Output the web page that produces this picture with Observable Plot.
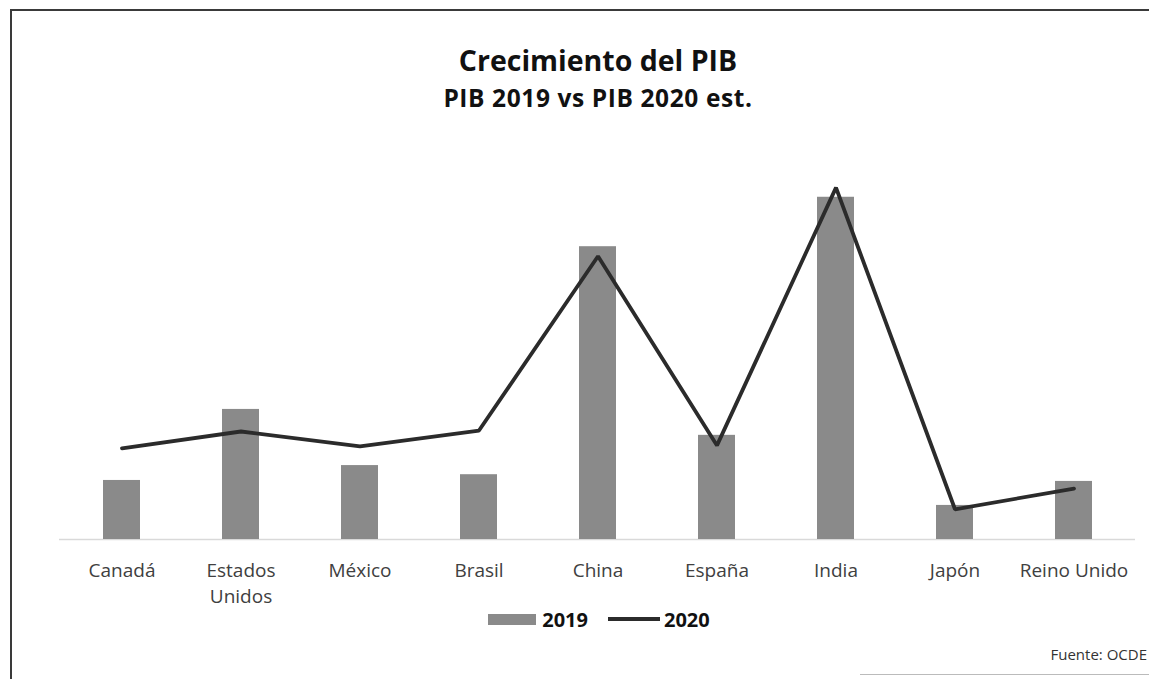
<!DOCTYPE html>
<html>
<head>
<meta charset="utf-8">
<script src="https://cdn.jsdelivr.net/npm/d3@7"></script>
<script src="https://cdn.jsdelivr.net/npm/@observablehq/plot@0.6"></script>
<style>
  body { margin: 0; background: #fff; font-family: "Open Sans", "Noto Sans", sans-serif; }
  #page { position: relative; width: 1149px; height: 679px; overflow: hidden; background: #fff; }
  #frame { position: absolute; left: 10px; top: 9px; width: 1200px; height: 700px;
           border-left: 2px solid #3a3a3a; border-top: 2px solid #3a3a3a; }
  #bottomline { position: absolute; left: 860px; top: 674px; width: 300px; height: 0; border-top: 1px solid #bbb; }
  #title { position: absolute; left: 0; top: 41px; width: 1196px; text-align: center; color: #111; }
  #title .t { font-size: 28.5px; font-weight: 700; line-height: 38px; }
  #title .s { font-size: 24.5px; font-weight: 700; line-height: 34px; margin-top: 2px; letter-spacing: 0.6px; }
  #chart { position: absolute; left: 0; top: 130px; }
  #chart svg { overflow: visible; }
  #legend { position: absolute; left: 0; top: 605px; width: 1198px; height: 28px; display: flex; justify-content: center; align-items: center;
            font-size: 20px; font-weight: 700; color: #111; }
  #legend .sw { display: inline-block; width: 48px; height: 11px; background: #8a8a8a; margin-right: 6px; }
  #legend .ln { display: inline-block; width: 52px; height: 4px; background: #2b2b2b; margin-right: 4px; margin-left: 20px; }
  #caption { position: absolute; right: 2px; top: 644px; font-size: 15px; line-height: 20px; color: #333; }
</style>
</head>
<body>
<div id="page">
  <div id="frame"></div>
  <div id="bottomline"></div>
  <div id="title"><div class="t">Crecimiento del PIB</div><div class="s">PIB 2019 vs PIB 2020 est.</div></div>
  <div id="chart"></div>
  <div id="legend"><span class="sw"></span><span>2019</span><span class="ln"></span><span>2020</span></div>
  <div id="caption">Fuente: OCDE</div>
</div>
<script>
const categories = ["Canadá", "Estados Unidos", "México", "Brasil", "China", "España", "India", "Japón", "Reino Unido"];
const tickLabels = ["Canadá", "Estados\nUnidos", "México", "Brasil", "China", "España", "India", "Japón", "Reino Unido"];
const pib2019 = [1.23, 2.71, 1.54, 1.35, 6.10, 2.17, 7.13, 0.71, 1.21];
const pib2020 = [1.90, 2.25, 1.94, 2.27, 5.90, 1.96, 7.33, 0.63, 1.06];

const data = categories.map((c, i) => ({ pais: c, v2019: pib2019[i], v2020: pib2020[i] }));
const labelOf = new Map(categories.map((c, i) => [c, tickLabels[i]]));

const chart = Plot.plot({
  width: 1149,
  height: 489,
  marginLeft: 59,
  marginRight: 14,
  marginTop: 25,
  marginBottom: 80,
  style: { fontFamily: "'Open Sans', 'Noto Sans', sans-serif", background: "transparent", overflow: "visible" },
  x: { domain: categories, paddingInner: 0.69, paddingOuter: 0.345, label: null },
  y: { domain: [0, 8], axis: null },
  marks: [
    Plot.ruleY([0], { stroke: "#d9d9d9", strokeWidth: 1.5 }),
    Plot.barY(data, { x: "pais", y: "v2019", fill: "#8a8a8a" }),
    Plot.lineY(data, { x: "pais", y: "v2020", stroke: "#2b2b2b", strokeWidth: 3.8, strokeLinejoin: "miter" }),
    Plot.axisX({ tickSize: 0, tickPadding: 19, fontSize: 19, lineHeight: 1.37, fill: "#404040",
                 tickFormat: d => labelOf.get(d), label: null })
  ]
});
document.getElementById("chart").appendChild(chart);
</script>
</body>
</html>
